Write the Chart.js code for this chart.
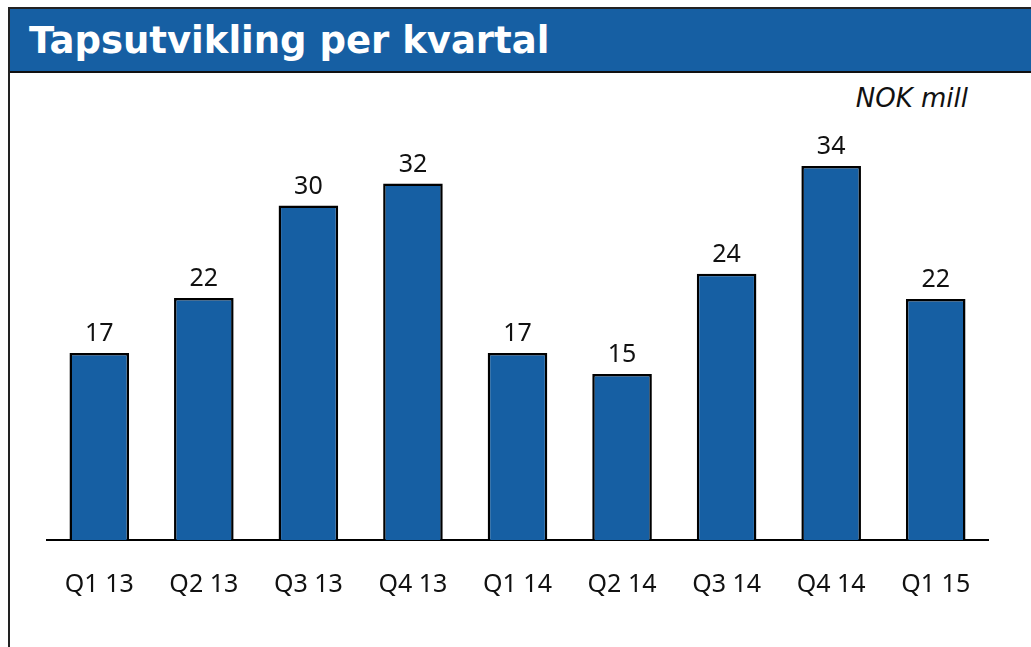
<!DOCTYPE html>
<html>
<head>
<meta charset="utf-8">
<script src="https://cdn.jsdelivr.net/npm/chart.js@4"></script>
<style>
    body { margin: 0; width: 1031px; height: 647px; overflow: hidden; background: #fff; position: relative; }
    .frame { position: absolute; left: 8px; top: 7px; width: 1040px; height: 660px;
             border-left: 2px solid #222; border-top: 2px solid #222; }
    .header { position: absolute; left: 10px; top: 9px; width: 1030px; height: 62px;
              background: #165FA3; border-bottom: 2px solid #111; }
    .header span { position: absolute; left: 19px; top: 10px; color: #fff;
                   font: bold 37px "DejaVu Sans", sans-serif; }
    .unit { position: absolute; right: 63px; top: 83px; font: italic 26px "DejaVu Sans", sans-serif; color: #111; }
    #chart { position: absolute; left: 0; top: 0; }
</style>
</head>
<body>
<div class="frame"></div>
<div class="header"><span>Tapsutvikling per kvartal</span></div>
<div class="unit">NOK mill</div>
<canvas id="chart" width="1031" height="647"></canvas>
<script>
const quarters = ['Q1 13', 'Q2 13', 'Q3 13', 'Q4 13', 'Q1 14', 'Q2 14', 'Q3 14', 'Q4 14', 'Q1 15'];
const losses = [17, 22, 30.4, 32.4, 17, 15.1, 24.2, 34, 21.9];

// value labels above each bar
const valueLabels = {
    id: 'valueLabels',
    afterDatasetsDraw(chart) {
        const ctx = chart.ctx;
        const meta = chart.getDatasetMeta(0);
        ctx.save();
        ctx.font = '25px "Noto Sans", sans-serif';
        ctx.fillStyle = '#111';
        ctx.textAlign = 'center';
        ctx.textBaseline = 'alphabetic';
        meta.data.forEach((bar, i) => {
            ctx.fillText(Math.round(losses[i]), bar.x, bar.y - 12);
        });
        ctx.restore();
    }
};

new Chart(document.getElementById('chart'), {
    type: 'bar',
    data: {
        labels: quarters,
        datasets: [{
            data: losses,
            backgroundColor: '#165FA3',
            borderColor: '#000',
            borderWidth: 2.5,
            borderSkipped: 'bottom',
            categoryPercentage: 1,
            barPercentage: 0.57
        }]
    },
    options: {
        responsive: false,
        animation: false,
        layout: { padding: { left: 47, right: 43, top: 100, bottom: 17 } },
        plugins: {
            legend: { display: false },
            tooltip: { enabled: false }
        },
        scales: {
            y: { display: false, min: 0, max: 40 },
            x: {
                grid: { display: false, drawTicks: false },
                border: { display: true, color: '#000', width: 2 },
                ticks: {
                    color: '#111',
                    padding: 30,
                    font: { family: '"Noto Sans", sans-serif', size: 25 }
                }
            }
        }
    },
    plugins: [valueLabels]
});
</script>
</body>
</html>
